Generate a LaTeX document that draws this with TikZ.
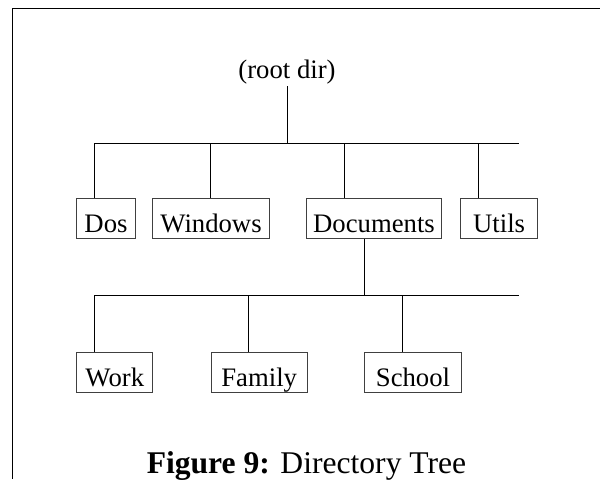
\documentclass[tikz,border=0pt]{standalone}
\usepackage{fontspec}
\setmainfont{Liberation Serif}
\usepackage{tikz}

\tikzset{
  dirtext/.style={font=\fontsize{13.35}{16}\selectfont},
  dirbox/.style={dirtext, draw=black!75, line width=0.5pt, anchor=south west,
    text height=14pt, text depth=0pt, inner ysep=3pt, inner xsep=0pt}
}

\begin{document}
\begin{tikzpicture}[x=0.5pt, y=-0.5pt, line width=0.5pt]
\useasboundingbox (0,0) rectangle (600,479);
\draw[line width=0.75pt] (600,8.3) -- (12.3,8.3) -- (12.3,479); % frame

% root
\node[dirtext, anchor=base, inner sep=1pt] (root) at (287,78) {(root dir)};
\coordinate (bar1) at (287,143);
\draw (root.south) -- (bar1);
\draw (bar1 -| 94.3,0) -- (bar1 -| 518.6,0);

% first level
\foreach \n/\t/\l/\w in {dos/Dos/76.3/29.2pt, windows/Windows/152.3/58.2pt,
    documents/Documents/306.3/67.2pt, utils/Utils/460.3/38.35pt}
  \node[dirbox, minimum width=\w] (\n) at (\l,239) {\t};
\foreach \n/\x in {dos/94.3, windows/210.7, documents/344.3, utils/478.7}
  \draw (bar1 -| \x,0) -- (\n.north -| \x,0);

% under documents
\coordinate (bar2) at (364.3,295);
\draw (documents.south -| bar2) -- (bar2);
\draw (bar2 -| 94.3,0) -- (bar2 -| 518.6,0);

\foreach \n/\t/\l/\w in {work/Work/76.3/38pt, family/Family/210.7/48pt,
    school/School/364.3/48.2pt}
  \node[dirbox, minimum width=\w] (\n) at (\l,393.3) {\t};
\foreach \n/\x in {work/94.3, family/248.3, school/402.3}
  \draw (bar2 -| \x,0) -- (\n.north -| \x,0);

% caption
\node[font=\fontsize{15.8}{19}\selectfont, anchor=base] (caption) at (306.5,473)
  {\textbf{Figure 9:} Directory Tree};
\end{tikzpicture}
\end{document}
